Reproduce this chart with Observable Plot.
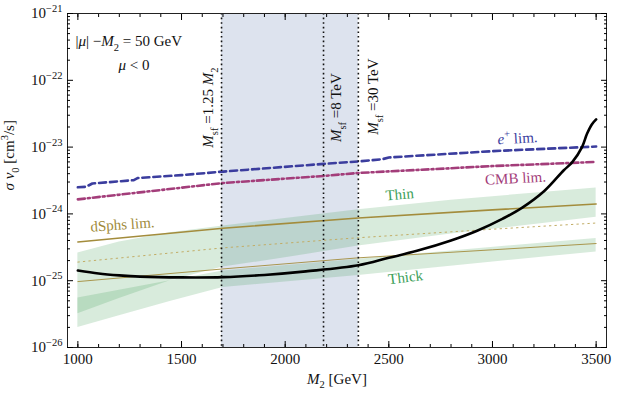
<!DOCTYPE html>
<html><head><meta charset="utf-8">
<script src="https://cdn.jsdelivr.net/npm/d3@7"></script>
<script src="https://cdn.jsdelivr.net/npm/@observablehq/plot@0.6"></script>
<style>body{margin:0;background:#fff} svg{display:block}</style>
</head><body><div id="chart"></div>
<script>
// ---- data ----
const xMajor = [1000, 1500, 2000, 2500, 3000, 3500];
const xMinor = d3.range(1000, 3501, 100);
const yTicks = [1e-26, 1e-25, 1e-24, 1e-23, 1e-22, 1e-21];
const yTickLabels = ["10^{−26}", "10^{−25}", "10^{−24}", "10^{−23}", "10^{−22}", "10^{−21}"];
const yMinor = d3.range(-26, -21).flatMap(e => d3.range(2, 10).map(k => k * Math.pow(10, e)));

const msfLines = [1693, 2185, 2353]; // 1.25 M2, 8 TeV, 30 TeV

const ePosM2 = [1000, 1040, 1070, 1270, 1290, 1500, 1700, 2185, 2353, 2470, 2500, 3000, 3500];
const ePosSv = [2.5e-24, 2.55e-24, 2.85e-24, 3.2e-24, 3.45e-24, 3.8e-24, 4.3e-24, 5.6e-24, 6.1e-24, 6.6e-24, 7.0e-24, 8.7e-24, 1.02e-23];

const cmbM2 = [1000, 1700, 2185, 2353, 3000, 3500];
const cmbSv = [1.65e-24, 2.9e-24, 3.7e-24, 4.1e-24, 5.2e-24, 6.0e-24];

const dsphM2 = [1000, 1700, 2353, 3000, 3500];
const dsphSv = [3.8e-25, 6.1e-25, 8.7e-25, 1.15e-24, 1.41e-24];
const dsphDotSv = [1.9e-25, 3.1e-25, 4.4e-25, 5.9e-25, 7.3e-25];
const dsphThinSv = [9.7e-26, 1.5e-25, 2.2e-25, 2.9e-25, 3.6e-25];

const thinM2 = [1000, 1200, 1445, 1700, 2000, 2353, 2800, 3500];
const thinHi = [2.6e-25, 3.8e-25, 5.2e-25, 6.6e-25, 8.5e-25, 1.15e-24, 1.6e-24, 2.45e-24];
const thinLo = [3.2e-26, 5.4e-26, 1.0e-25, 1.6e-25, 2.2e-25, 3.3e-25, 5.0e-25, 8.9e-25];

const thickM2 = [1000, 1200, 1445, 1700, 2353, 3500];
const thickHi = [5.5e-26, 7.2e-26, 1.0e-25, 1.4e-25, 2.1e-25, 4.3e-25];
const thickLo = [2.0e-26, 3.0e-26, 4.9e-26, 7.9e-26, 1.2e-25, 2.7e-25];

const winoM2 = [1000, 1100, 1200, 1300, 1500, 1700, 1900, 2100, 2353, 2500, 2636, 2800, 2926, 3050, 3142, 3250, 3344, 3384, 3432, 3456, 3480, 3500];
const winoSv = [1.42e-25, 1.28e-25, 1.2e-25, 1.15e-25, 1.12e-25, 1.13e-25, 1.22e-25, 1.38e-25, 1.7e-25, 2.2e-25, 2.8e-25, 4.0e-25, 5.6e-25, 8.5e-25, 1.23e-24, 2.2e-24, 4.5e-24, 5.9e-24, 1.0e-23, 1.58e-23, 2.2e-23, 2.6e-23];

// ---- tables ----
const zip = (xs, ys) => xs.map((x, i) => ({x, y: ys[i]}));
const band = (xs, lo, hi) => xs.map((x, i) => ({x, lo: lo[i], hi: hi[i]}));

const labels = [
  {x: 3121, y: 1.35e-23, t: "*e*^{+} lim.", c: "#3b3d9e", r: -3},
  {x: 3111, y: 3.4e-24, t: "CMB lim.", c: "#a33d7a", r: -3},
  {x: 2552, y: 1.95e-24, t: "Thin", c: "#3a9e58", r: -5},
  {x: 2581, y: 1.12e-25, t: "Thick", c: "#3a9e58", r: -7},
  {x: 1215, y: 6.9e-25, t: "dSphs lim.", c: "#a08a3a", r: -4}
];
const msfLabels = [
  {x: 1630, y: 3.9e-23, t: "*M*_{sf} =1.25 *M*_{2}"},
  {x: 2248, y: 3.9e-23, t: "*M*_{sf} =8 TeV"},
  {x: 2426, y: 5.7e-23, t: "*M*_{sf} =30 TeV"}
];

const fmtY = d => yTickLabels[yTicks.indexOf(d)];

const chart = Plot.plot({
  width: 620, height: 393,
  marginLeft: 67, marginRight: 14, marginTop: 13, marginBottom: 46,
  style: {fontFamily: "'Liberation Serif', serif", fontSize: "15px", background: "#fff"},
  x: {domain: [950, 3550], label: null},
  y: {type: "log", domain: [1e-26, 1e-21], label: null},
  marks: [
    Plot.rect([{a: msfLines[0], b: msfLines[2]}], {x1: "a", x2: "b", fill: "#dde3ee"}),
    Plot.areaY(band(thinM2, thinLo, thinHi), {x: "x", y1: "lo", y2: "hi", fill: "rgb(60,155,80)", fillOpacity: 0.2}),
    Plot.areaY(band(thickM2, thickLo, thickHi), {x: "x", y1: "lo", y2: "hi", fill: "rgb(60,155,80)", fillOpacity: 0.2}),
    Plot.line(zip(dsphM2, dsphSv), {x: "x", y: "y", stroke: "#a38c3c", strokeWidth: 1.6}),
    Plot.line(zip(dsphM2, dsphDotSv), {x: "x", y: "y", stroke: "#c2ad66", strokeWidth: 1, strokeDasharray: "1.5,4"}),
    Plot.line(zip(dsphM2, dsphThinSv), {x: "x", y: "y", stroke: "#a38c3c", strokeWidth: 0.9}),
    Plot.line(zip(cmbM2, cmbSv), {x: "x", y: "y", stroke: "#a33d7a", strokeWidth: 2.6, strokeDasharray: "7,3,2,3"}),
    Plot.line(zip(ePosM2, ePosSv), {x: "x", y: "y", stroke: "#3b3d9e", strokeWidth: 2.6, strokeDasharray: "7,4"}),
    Plot.line(zip(winoM2, winoSv), {x: "x", y: "y", stroke: "#000", strokeWidth: 2.6, curve: "catmull-rom"}),
    Plot.ruleX(msfLines, {stroke: "#111", strokeWidth: 1.6, strokeDasharray: "1.6,3"}),
    Plot.text(labels, {x: "x", y: "y", text: "t", fill: "c", rotate: "r", fontSize: 15}),
    Plot.text(msfLabels, {x: "x", y: "y", text: "t", fill: "#111", rotate: -90, fontSize: 15}),
    Plot.text(["|*μ*| −*M*_{2} = 50 GeV"], {frameAnchor: "top-left", dx: 8, dy: 22, textAnchor: "start", fontSize: 15, fill: "#111"}),
    Plot.text(["*μ* < 0"], {frameAnchor: "top-left", dx: 51, dy: 46, textAnchor: "start", fontSize: 15, fill: "#111"}),
    Plot.text(["*M*_{2} [GeV]"], {frameAnchor: "bottom", dy: 36, fontSize: 15, fill: "#111"}),
    Plot.text(["*σ v*_{0} [cm^{3}/s]"], {frameAnchor: "left", dx: -58, dy: 10, rotate: -90, fontSize: 15, fill: "#111"}),
    Plot.frame({stroke: "#222", strokeWidth: 1}),
    Plot.axisX({ticks: xMajor, anchor: "bottom", tickSize: 0, tickPadding: 6, tickFormat: d => String(d), label: null, fontSize: 15, fill: "#111"}),
    Plot.axisX({ticks: xMajor, anchor: "bottom", tickSize: -6, tickFormat: () => "", label: null}),
    Plot.axisX({ticks: xMajor, anchor: "top", tickSize: -6, tickFormat: () => "", label: null}),
    Plot.axisX({ticks: xMinor, anchor: "bottom", tickSize: -3, tickFormat: () => "", label: null}),
    Plot.axisX({ticks: xMinor, anchor: "top", tickSize: -3, tickFormat: () => "", label: null}),
    Plot.axisY({ticks: yTicks, anchor: "left", tickSize: 0, tickPadding: 5, tickFormat: fmtY, label: null, fontSize: 15, fill: "#111"}),
    Plot.axisY({ticks: yTicks, anchor: "left", tickSize: -6, tickFormat: () => "", label: null}),
    Plot.axisY({ticks: yTicks, anchor: "right", tickSize: -6, tickFormat: () => "", label: null}),
    Plot.axisY({ticks: yMinor, anchor: "left", tickSize: -3, tickFormat: () => "", label: null}),
    Plot.axisY({ticks: yMinor, anchor: "right", tickSize: -3, tickFormat: () => "", label: null})
  ]
});
document.getElementById("chart").appendChild(chart);

// ---- rich text: *italic*, _{sub}, ^{sup} ----
const NS = "http://www.w3.org/2000/svg";
function rich(el) {
  const s = el.textContent;
  if (!/[\*]|[_\^]\{/.test(s)) return;
  const fs = parseFloat(getComputedStyle(el).fontSize) || 15;
  while (el.firstChild) el.removeChild(el.firstChild);
  const re = /(\*)|([_\^])\{([^}]*)\}|([^\*_\^]+)/g;
  let m, italic = false, pending = 0;
  while ((m = re.exec(s))) {
    if (m[1]) { italic = !italic; continue; }
    const t = document.createElementNS(NS, "tspan");
    if (m[2]) {
      const d = m[2] === "_" ? fs * 0.3 : -fs * 0.42;
      t.textContent = m[3];
      t.setAttribute("font-size", (fs * 0.7).toFixed(1));
      t.setAttribute("dy", (pending + d).toFixed(2));
      t.setAttribute("font-style", "normal");
      pending = -d;
    } else {
      t.textContent = m[4];
      if (pending) t.setAttribute("dy", pending.toFixed(2));
      pending = 0;
      t.setAttribute("font-style", italic ? "italic" : "normal");
    }
    el.appendChild(t);
  }
}
chart.querySelectorAll("text").forEach(rich);
</script>
</body></html>
